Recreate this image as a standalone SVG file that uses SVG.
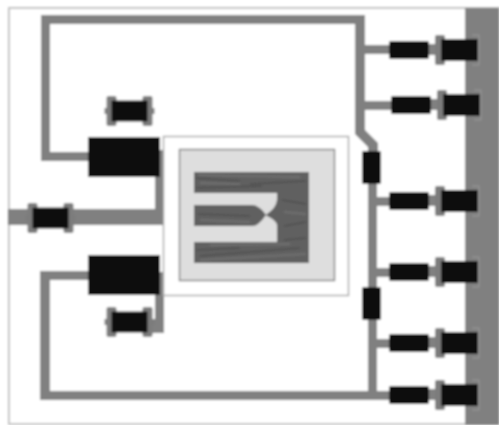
<svg xmlns="http://www.w3.org/2000/svg" width="499" height="425" viewBox="0 0 499 425">
<style>
.tr{fill:#808080}
.bk{fill:#0e0e0e}
.cap{fill:#7c7c7c}
.ol{fill:none;stroke:#9a9a9a;stroke-width:1}
.st{fill:none;stroke:#4e4e4e;stroke-width:2;opacity:.7}
.sl{fill:none;stroke:#767676;stroke-width:2;opacity:.7}
</style>
<defs>
<filter id="soft" x="-5%" y="-5%" width="110%" height="110%"><feGaussianBlur stdDeviation="0.9"/></filter>
<g id="chip"><rect class="cap" x="-23" y="-15" width="10" height="30" rx="2"/><rect class="cap" x="13" y="-15" width="10" height="30" rx="2"/><rect class="cap" x="-25" y="-3" width="50" height="6"/><rect class="bk" x="-18" y="-10.500" width="36" height="21" rx="1"/></g>
<g id="port"><rect class="bk" x="-26" y="-9" width="40" height="18" rx="2"/><rect class="tr" x="14" y="-6" width="10" height="11"/><rect class="cap" x="20" y="-15" width="10" height="30" rx="2"/><rect class="bk" x="26" y="-11" width="37" height="22" rx="1"/><path class="ol" d="M57 -15h7v30h-7"/></g>
</defs>
<g filter="url(#soft)">
<rect id="background" x="9" y="8" width="490" height="416" fill="#fff" stroke="#c4c4c4" stroke-width="2"/>
<rect id="ground" x="465" y="8" width="34" height="417" fill="#808080"/>
<g id="connectors">
<path class="tr" d="M41 15H365V130L378 143V151H368V147L355 134V24H50V152H90V161H41Z"/>
<rect class="tr" x="368" y="184" width="9" height="103"/>
<rect class="tr" x="368" y="320" width="9" height="80"/>
<path class="tr" d="M40 271H90V280H50V391H392V400H40Z"/>
<rect class="tr" x="8" y="209" width="156" height="16"/>
<rect class="tr" x="155" y="150" width="9" height="75"/>
<rect class="tr" x="155" y="272" width="9" height="61"/>
<rect class="tr" x="146" y="319" width="18" height="14"/>
<rect class="tr" x="364" y="45" width="27" height="9"/>
<rect class="tr" x="364" y="101" width="29" height="9"/>
<rect class="tr" x="377" y="197" width="14" height="9"/>
<rect class="tr" x="377" y="268" width="14" height="9"/>
<rect class="tr" x="377" y="339" width="14" height="9"/>
</g>
<g id="die">
<rect x="163.500" y="136.500" width="185" height="159" fill="#fff" stroke="#a8a8a8" stroke-width="1.500"/>
<rect x="179.500" y="149.500" width="155" height="131" fill="#dedede" stroke="#858585" stroke-width="1.500"/>
<rect x="194" y="172" width="115" height="91" fill="#606060"/>
<path class="st" d="M196 178L240 181M250 184L306 181M196 188L262 186M282 200L306 204M198 214L250 216M284 226L306 222M200 256L300 248M196 250L240 248M284 240L306 238"/>
<path class="sl" d="M198 175L300 177M200 183L240 184M284 212L306 214M200 220L250 222M200 260L306 254M210 245L290 244"/>
<path d="M194 193H277V200Q276 208 267 214L266 215Q262 209 258 207Q256 205 252 205H194Z" fill="#dedede"/>
<path d="M194 242H277V225Q276 220 267 216L266 215Q262 221 258 224Q256 226 252 226H194Z" fill="#dedede"/>
</g>
<g id="amp-top"><rect class="bk" x="88" y="137" width="72" height="40"/></g>
<g id="amp-bottom"><rect class="bk" x="88" y="255" width="72" height="40"/></g>
<g id="chip-top"><use href="#chip" x="129.500" y="111"/></g>
<g id="chip-input"><use href="#chip" x="50.500" y="218"/></g>
<g id="chip-bottom"><use href="#chip" x="129.500" y="322"/></g>
<g id="series-1"><rect class="bk" x="362" y="151" width="19" height="33" rx="2"/></g>
<g id="series-2"><rect class="bk" x="362" y="287" width="19" height="33" rx="2"/></g>
<g id="port-1"><use href="#port" x="415" y="50"/></g>
<g id="port-2"><use href="#port" x="417" y="105"/></g>
<g id="port-3"><use href="#port" x="415" y="201"/></g>
<g id="port-4"><use href="#port" x="415" y="272"/></g>
<g id="port-5"><use href="#port" x="415" y="343"/></g>
<g id="port-6"><use href="#port" x="415" y="395"/></g>
</g>
</svg>
